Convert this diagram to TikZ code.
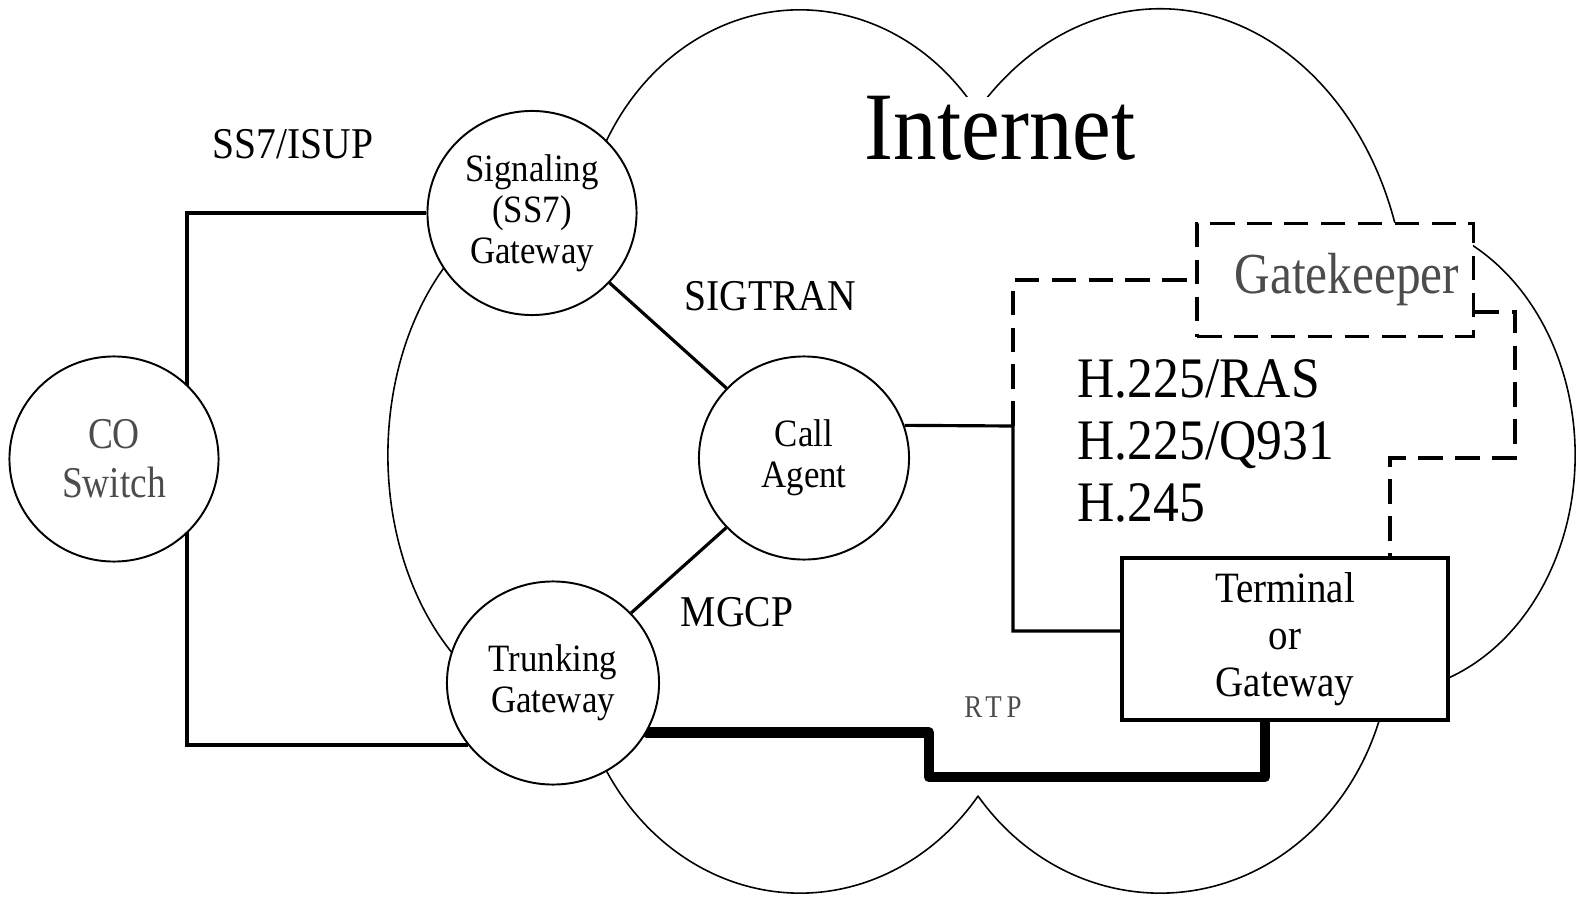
\documentclass[tikz,border=0pt]{standalone}
\usepackage{fontspec}
\setmainfont{Liberation Serif}[FakeStretch=0.9]
\newfontfamily\thinfont{Liberation Serif}[FakeStretch=0.85]
\usetikzlibrary{shapes.geometric,backgrounds}

\begin{document}
\begin{tikzpicture}[x=0.01cm, y=0.01cm,
	gw/.style={ellipse, draw, line width=0.55pt, fill=white, align=center, inner sep=0pt, font=\fontsize{11}{11.7}\selectfont},
	box/.style={rectangle, draw, fill=white, inner sep=0pt},
	wire/.style={line width=0.9pt},
	sig/.style={line width=0.9pt, dash pattern=on 7pt off 3.5pt},
	rtp/.style={line width=3pt, line cap=round, line join=round},
	cloud/.style={line width=0.45pt},
	proto/.style={font=\fontsize{12.5}{13}\selectfont},
	faint/.style={text=black!70}]
	\useasboundingbox (0,0) rectangle (1578,896);
	% Nodes:
	\node[gw, faint, font=\thinfont\fontsize{12.5}{13.9}\selectfont, minimum width=2.09cm, minimum height=2.05cm] (co) at (114,437) {CO\\Switch};
	\node[gw, minimum width=2.09cm, minimum height=2.04cm] (ss7) at (532,683) {Signaling\\(SS7)\\Gateway};
	\node[gw, minimum width=2.10cm, minimum height=2.03cm] (agent) at (804,438) {Call\\Agent};
	\node[gw, minimum width=2.12cm, minimum height=2.03cm] (trunk) at (553,213) {Trunking\\Gateway};
	\node[box, line width=1pt, minimum width=3.26cm, minimum height=1.62cm, align=center, font=\fontsize{12.3}{13.4}\selectfont] (term) at (1285,257) {Terminal\\or\\Gateway};
	\node[box, sig, faint, minimum width=2.76cm, minimum height=1.13cm, font=\thinfont\fontsize{16.5}{18}\selectfont] (gk) at (1335,616) {\hspace{0.24cm}Gatekeeper};
	\node[fill=white, inner xsep=2pt, inner ysep=0pt, anchor=base, font=\fontsize{27.5}{30}\selectfont] (inet) at (1000,736) {Internet};
	\node[align=left, anchor=west, inner sep=0pt, font=\fontsize{16.3}{17.6}\selectfont] (h323) at (1077,455) {H.225/RAS\\H.225/Q931\\H.245};
	% Labels:
	\node[proto, anchor=base] (isup) at (293,738) {SS7/ISUP};
	\node[proto, anchor=base] (sigtran) at (770,586) {SIGTRAN};
	\node[proto, anchor=base] (mgcp) at (737,270) {MGCP};
	\node[faint, anchor=base, font=\thinfont\fontsize{9}{10}\selectfont\addfontfeatures{LetterSpace=15}] (rtplbl) at (993,179) {RTP};
	% Corners:
	\coordinate (bus) at (187,151);
	\coordinate (hub) at (1013,470);
	\coordinate (gr) at (1515,584);
	\coordinate (gt) at (1390,438);
	\coordinate (r1) at (929,163);
	\coordinate (r2) at (1265,119);
	\begin{pgfonlayer}{background}
		% Cloud:
		\draw[cloud] (800,636) ++(30:2.2cm and 2.5cm) arc[start angle=30, end angle=155, x radius=2.2cm, y radius=2.5cm];
		\draw[cloud] (1160,576) ++(15:2.47cm and 3.11cm) arc[start angle=15, end angle=140, x radius=2.47cm, y radius=3.11cm];
		\draw[cloud] (1380,441) ++(-75:1.95cm and 2.38cm) arc[start angle=-75, end angle=66, x radius=1.95cm, y radius=2.38cm];
		\draw[cloud] (1160,256) ++(-142:2.31cm and 2.53cm) arc[start angle=-142, end angle=-15, x radius=2.31cm, y radius=2.53cm];
		\draw[cloud] (800,256) ++(-38:2.26cm and 2.53cm) arc[start angle=-38, end angle=-152, x radius=2.26cm, y radius=2.53cm];
		\draw[cloud] (580,441) ++(120:1.92cm and 2.65cm) arc[start angle=120, end angle=235, x radius=1.92cm, y radius=2.65cm];
		% Wires:
		\draw[wire] (ss7.west) -| (bus) -- (bus -| trunk.216);
		\draw[wire] (ss7) -- (agent);
		\draw[wire] (agent) -- (trunk);
		\draw[wire] (agent.18) -- (hub) |- ([yshift=0.08cm]term.west);
		\draw[sig] (hub) |- (gk.west);
		\draw[sig] (gk.east |- gr) -- (gr) |- (gt) -- (gt |- term.north);
		\draw[rtp] (trunk.-28) -- (trunk.-28 -| r1) |- (r2) -- (r2 |- term.south);
	\end{pgfonlayer}
\end{tikzpicture}
\end{document}
